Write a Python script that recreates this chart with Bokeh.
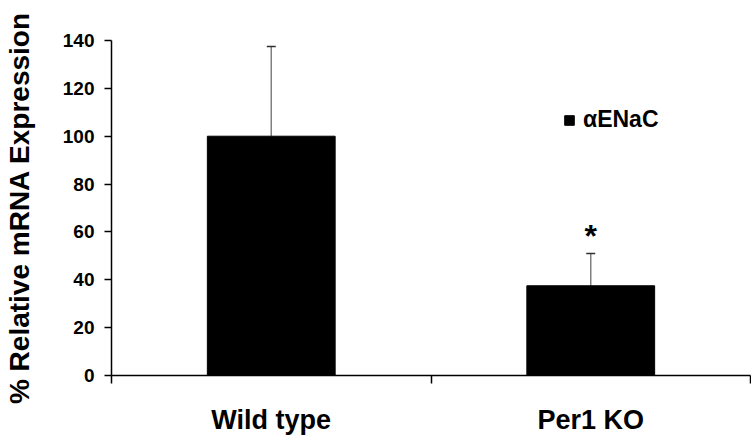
from bokeh.plotting import figure
from bokeh.models import (ColumnDataSource, Range1d, FixedTicker, Whisker, TeeHead,
                          Legend, LegendItem)
from bokeh.core.properties import value
from bokeh.embed import file_html
from bokeh.resources import INLINE

# ---- data ----
categories = ["Wild type", "Per1 KO"]
expression = [100.0, 37.5]
error_upper = [37.5, 13.5]
significance = ["", "*"]
series_name = "\u03b1ENaC"
y_ticks = [0, 20, 40, 60, 80, 100, 120, 140]

FONT = "Liberation Sans"

positions = [i + 0.5 for i in range(len(categories))]
upper = [v + e for v, e in zip(expression, error_upper)]

src = ColumnDataSource(dict(x=positions, val=expression, upper=upper,
                            star=significance))

p = figure(width=751, height=438, output_backend="svg", toolbar_location=None,
           x_range=Range1d(0, len(categories)), y_range=Range1d(0, 140),
           min_border_left=110, min_border_right=1, min_border_top=40,
           min_border_bottom=63)
p.outline_line_color = None
p.xgrid.grid_line_color = None
p.ygrid.grid_line_color = None
p.background_fill_color = "white"
p.border_fill_color = "white"

bars = p.vbar(x="x", top="val", bottom=0, width=0.4, source=src,
              fill_color="black", line_color="black")

wh = Whisker(source=src, base="x", upper="upper", lower="val",
             line_color="#808080", line_width=1.5,
             upper_head=TeeHead(size=9, line_color="#303030", line_width=1.5),
             lower_head=None)
p.add_layout(wh)

p.text(x="x", y="upper", text="star", source=src, text_align="center",
       text_baseline="middle", y_offset=-17,
       text_font=value(FONT), text_font_style="bold", text_font_size="32px",
       text_color="black")

# y axis
ya = p.yaxis[0]
ya.ticker = FixedTicker(ticks=y_ticks)
ya.axis_label = "% Relative mRNA Expression"
ya.axis_label_text_font = FONT
ya.axis_label_text_font_style = "bold"
ya.axis_label_text_font_size = "28px"
ya.axis_label_text_color = "black"
ya.axis_label_standoff = 25
ya.major_label_text_font = FONT
ya.major_label_text_font_style = "bold"
ya.major_label_text_font_size = "19px"
ya.major_label_text_color = "black"
ya.major_label_standoff = 10
ya.major_tick_out = 7
ya.major_tick_in = 0
ya.minor_tick_out = 0
ya.minor_tick_in = 0
ya.axis_line_width = 1.5
ya.major_tick_line_width = 1.5
ya.axis_line_color = "black"
ya.major_tick_line_color = "black"

# x axis
xa = p.xaxis[0]
xa.ticker = FixedTicker(ticks=positions,
                        minor_ticks=list(range(len(categories) + 1)))
xa.major_label_overrides = {pos: c for pos, c in zip(positions, categories)}
xa.major_label_text_font = FONT
xa.major_label_text_font_style = "bold"
xa.major_label_text_font_size = "27px"
xa.major_label_text_color = "black"
xa.major_label_standoff = 21
xa.major_tick_out = 0
xa.major_tick_in = 0
xa.minor_tick_out = 8
xa.minor_tick_in = 0
xa.minor_tick_line_width = 1.5
xa.minor_tick_line_color = "black"
xa.axis_line_width = 1.5
xa.axis_line_color = "black"

legend = Legend(items=[LegendItem(label=series_name, renderers=[bars])],
                location=(452, 242), padding=0, margin=0, spacing=0,
                glyph_width=12, glyph_height=12, label_standoff=8,
                label_text_font=FONT, label_text_font_style="bold",
                label_text_font_size="23px", label_text_color="black",
                border_line_color=None, background_fill_alpha=0)
p.add_layout(legend)

open("out.html", "w").write(file_html(p, INLINE))
